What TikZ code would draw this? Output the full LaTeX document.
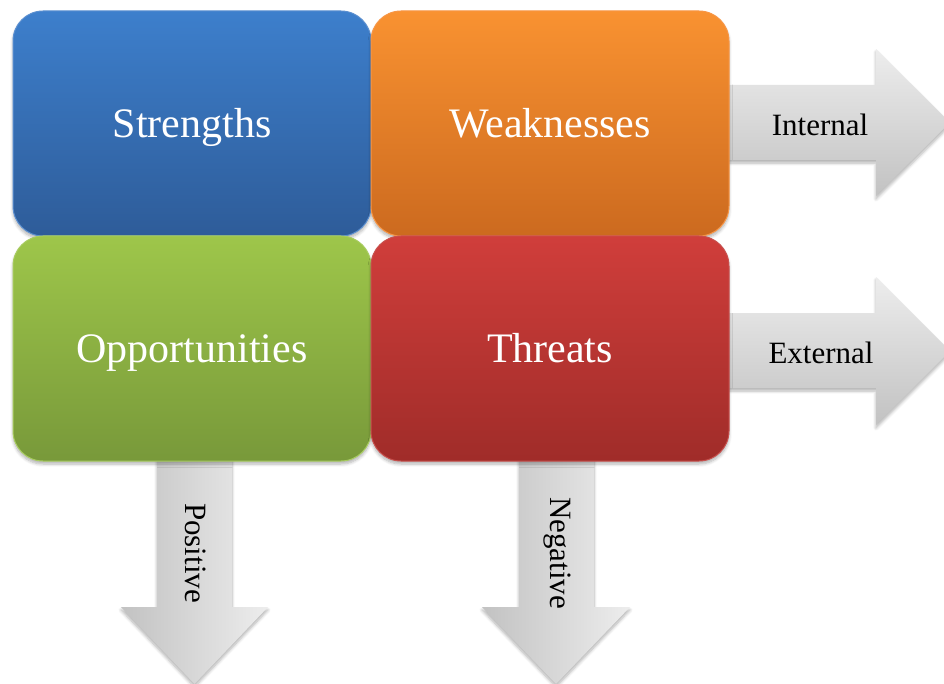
\documentclass[tikz,border=0pt]{standalone}
\usepackage{fontspec}
\setmainfont{Liberation Serif}
\usetikzlibrary{shadows.blur}
\definecolor{blueT}{HTML}{3D7FCC}
\definecolor{blueB}{HTML}{2E5C99}
\definecolor{blueE}{HTML}{5B8FD0}
\definecolor{oraT}{HTML}{F99231}
\definecolor{oraB}{HTML}{CC6A1F}
\definecolor{oraE}{HTML}{F79646}
\definecolor{grnT}{HTML}{9EC64A}
\definecolor{grnB}{HTML}{78993A}
\definecolor{grnE}{HTML}{A8CC60}
\definecolor{redT}{HTML}{D03E3B}
\definecolor{redB}{HTML}{A02C29}
\definecolor{redE}{HTML}{C8504D}
\definecolor{grayL}{HTML}{EDEDED}
\definecolor{grayD}{HTML}{C2C2C2}
\tikzset{
  softshadow/.style={blur shadow={shadow blur steps=6, shadow xshift=0pt, shadow yshift=-3pt, shadow opacity=30, shadow blur radius=3pt}},
  swotbox/.style={rectangle, rounded corners=30pt, minimum width=358pt, minimum height=225pt,
    line width=1pt, text=white, font=\fontsize{42}{48}\selectfont,
    text height=28pt, text depth=0pt, softshadow},
  harrow/.style={top color=grayL, bottom color=grayD, softshadow},
  varrow/.style={left color=grayD, right color=grayL, softshadow},
  arrowtext/.style={text=black, font=\fontsize{31}{36}\selectfont, inner sep=0pt},
}
\begin{document}
\begin{tikzpicture}[x=1pt, y=-1pt]
\useasboundingbox (0,0) rectangle (944,684);
% gray arrows (under the boxes)
\path[harrow] (715,85) -- (876,85) -- (876,49) -- (950,122.5) -- (876,196) -- (876,160) -- (715,160) -- cycle;
\path[harrow] (715,313) -- (876,313) -- (876,277) -- (950,351) -- (876,425) -- (876,388) -- (715,388) -- cycle;
\path[varrow] (157,450) -- (157,607) -- (121,607) -- (194.5,684) -- (268,607) -- (232,607) -- (232,450) -- cycle;
\path[varrow] (519,450) -- (519,607) -- (482,607) -- (556,684) -- (630,607) -- (594,607) -- (594,450) -- cycle;
% boxes
\node[swotbox, draw=blueE, top color=blueT, bottom color=blueB] (s) at (192,123.5) {Strengths};
\node[swotbox, draw=oraE, top color=oraT, bottom color=oraB] (w) at (550,123.5) {Weaknesses};
\node[swotbox, draw=grnE, top color=grnT, bottom color=grnB] (o) at (192,348.5) {Opportunities};
\node[swotbox, draw=redE, top color=redT, bottom color=redB] (t) at (550,348.5) {Threats};
% arrow labels
\node[arrowtext] (internal) at (820,125) {Internal};
\node[arrowtext] (external) at (821,353) {External};
\node[arrowtext, rotate=-90] (positive) at (196,553) {Positive};
\node[arrowtext, rotate=-90] (negative) at (557,553) {Negative};
\end{tikzpicture}
\end{document}
